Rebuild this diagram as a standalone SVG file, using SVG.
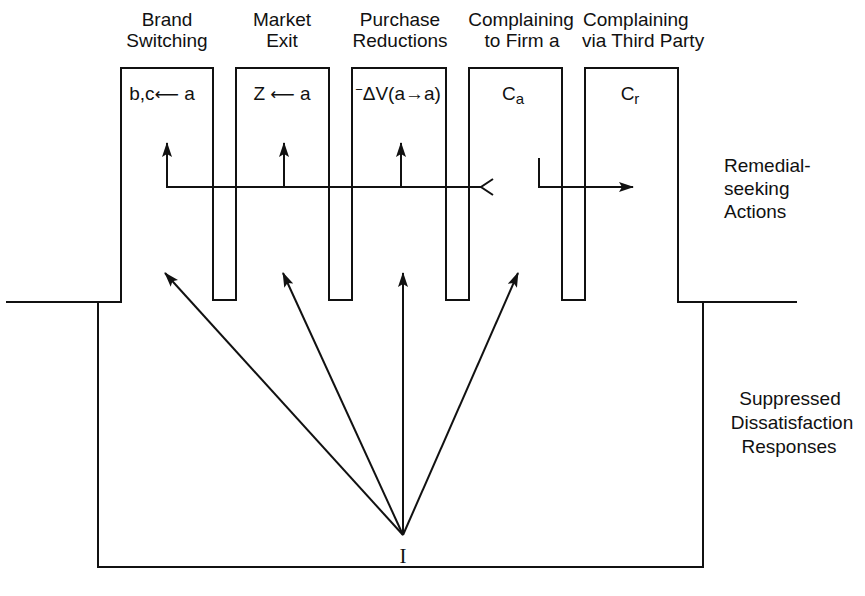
<svg xmlns="http://www.w3.org/2000/svg" width="865" height="596" viewBox="0 0 865 596">
<defs>
<style>
.ln{fill:none;stroke:#111;stroke-width:2;stroke-linejoin:miter}
.t{font-family:"Liberation Sans",Arial,sans-serif;font-size:19px;fill:#111}
.m{text-anchor:middle}
.ar{font-family:"DejaVu Sans",sans-serif;font-size:17px}
.s{font-family:"Liberation Serif","Times New Roman",serif;font-size:21px;fill:#111;text-anchor:middle}
</style>
<marker id="ah" viewBox="0 0 15 10" refX="14" refY="5" markerWidth="15" markerHeight="10" markerUnits="userSpaceOnUse" orient="auto">
<path d="M0,0 L15,5 L0,10 L3,5 Z" fill="#111"/>
</marker>
</defs>
<rect width="865" height="596" fill="#fff"/>
<g id="outline">
<path class="ln" d="M6,302 H121 V68 H213 V300 H236 V68 H329 V300 H352 V68 H446 V300 H469 V68 H562 V300 H585 V68 H678 V302 H797"/>
<path class="ln" d="M98,302 V567 H703 V302"/>
</g>
<g id="brand-switching">
<text class="t m" x="167" y="26">Brand</text>
<text class="t m" x="167" y="47">Switching</text>
<text class="t m" x="162" y="100">b,c<tspan class="ar">⟵</tspan> a</text>
</g>
<g id="market-exit">
<text class="t m" x="282" y="26">Market</text>
<text class="t m" x="282" y="47">Exit</text>
<text class="t m" x="282" y="100">Z <tspan class="ar">⟵</tspan> a</text>
</g>
<g id="purchase-reductions">
<text class="t m" x="400" y="26">Purchase</text>
<text class="t m" x="400" y="47">Reductions</text>
<text class="t m" x="398" y="100"><tspan font-size="13" dy="-6">−</tspan><tspan dy="6">ΔV(a→a)</tspan></text>
</g>
<g id="complaining-firm">
<text class="t m" x="521" y="26">Complaining</text>
<text class="t m" x="522" y="47">to Firm a</text>
<text class="t m" x="513" y="100">C<tspan font-size="15" dy="4">a</tspan></text>
</g>
<g id="complaining-third">
<text class="t" x="583" y="26">Complaining</text>
<text class="t" x="582" y="47">via Third Party</text>
<text class="t m" x="630" y="100">C<tspan font-size="15" dy="4">r</tspan></text>
</g>
<g id="remedial-label">
<text class="t" x="724" y="172">Remedial-</text>
<text class="t" x="724" y="195">seeking</text>
<text class="t" x="724" y="218">Actions</text>
</g>
<g id="suppressed-label">
<text class="t m" x="790" y="405">Suppressed</text>
<text class="t m" x="792" y="429">Dissatisfaction</text>
<text class="t m" x="789" y="453">Responses</text>
</g>
<g id="I-node">
<text class="s" x="403" y="563">I</text>
</g>
<g id="connectors">
<path class="ln" d="M481,187 H167 V143" marker-end="url(#ah)"/>
<path class="ln" d="M284,187 V143" marker-end="url(#ah)"/>
<path class="ln" d="M401,187 V143" marker-end="url(#ah)"/>
<path class="ln" d="M493,179 L481,187 L493,195"/>
<path class="ln" d="M539,158 V187 H633" marker-end="url(#ah)"/>
<path class="ln" d="M403,535 L165,273" marker-end="url(#ah)"/>
<path class="ln" d="M403,535 L283,273" marker-end="url(#ah)"/>
<path class="ln" d="M403,535 L403,273" marker-end="url(#ah)"/>
<path class="ln" d="M403,535 L518,273" marker-end="url(#ah)"/>
</g>
</svg>
